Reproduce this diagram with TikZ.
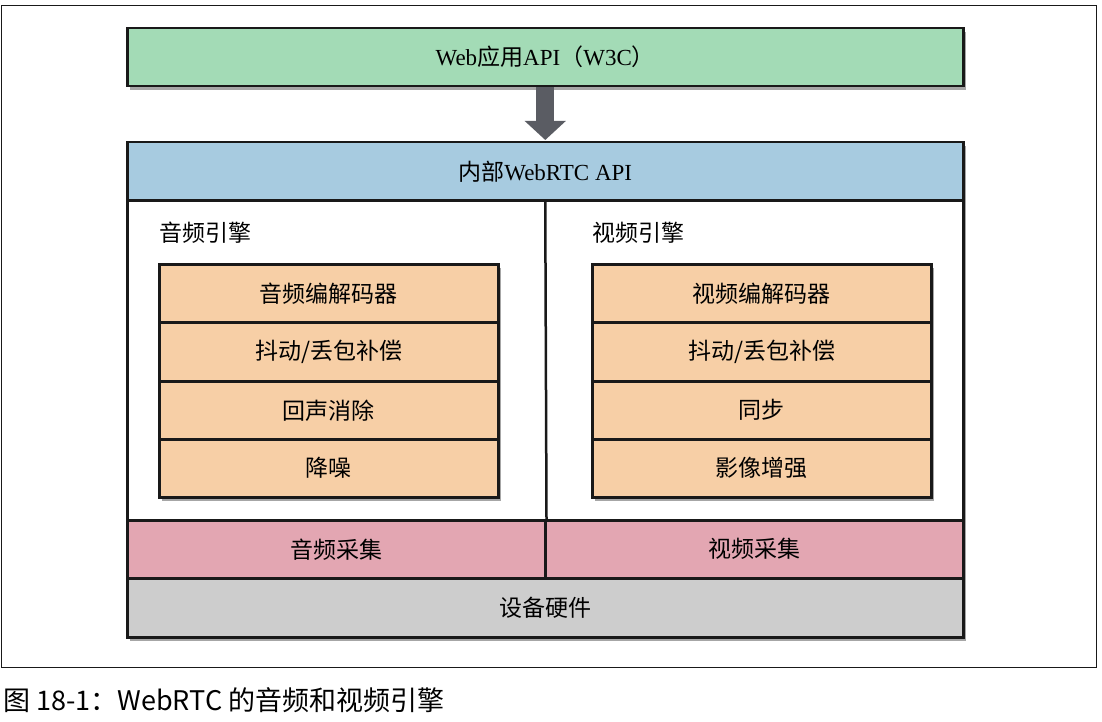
\documentclass[tikz,border=0pt]{standalone}
\usepackage{fontspec}
\setmainfont{Liberation Serif}
\newfontfamily\cjk{Noto Sans CJK SC}
\usetikzlibrary{shadows,arrows.meta}
\definecolor{cgreen}{HTML}{A3DBB6}
\definecolor{cblue}{HTML}{A7CBE0}
\definecolor{corange}{HTML}{F7CFA6}
\definecolor{cpink}{HTML}{E3A6B2}
\definecolor{cgray}{HTML}{CDCDCD}
\definecolor{carrow}{HTML}{5A5C63}
\tikzset{
  cell/.style={draw=black!90, line width=2.5pt, inner sep=0pt, anchor=north west, font=\fontsize{23}{27}\selectfont},
  shad/.style={drop shadow={shadow xshift=3pt, shadow yshift=-4pt, opacity=0.35, fill=black}},
  lbl/.style={inner sep=0pt, anchor=west, font=\fontsize{23}{27}\selectfont},
}
\begin{document}
\begin{tikzpicture}[x=1pt,y=-1pt]
\useasboundingbox (0,0) rectangle (1102,722);
\fill[white] (0,0) rectangle (1102,722);
\node[draw=black!90, line width=1pt, inner sep=0pt, anchor=north west, minimum width=1095pt, minimum height=662pt] (frame) at (1,5) {};
% top green box
\node[cell, shad, fill=cgreen, minimum width=836pt, minimum height=58pt] (w3c) at (126,27) {Web{\cjk 应用}API{\cjk （}W3C{\cjk ）}};
% main box
\node[cell, shad, fill=white, minimum width=836pt, minimum height=495pt] (main) at (126,141) {};
\node[cell, fill=cblue, minimum width=836pt, minimum height=58pt] (api) at (126,141) {{\cjk 内部}WebRTC API};
\node[cell, fill=cpink, minimum width=418pt, minimum height=58pt] (acap) at (126,519) {\cjk 音频采集};
\node[cell, fill=cpink, minimum width=418pt, minimum height=58pt] (vcap) at (544,519) {\cjk 视频采集};
\node[cell, fill=cgray, minimum width=836pt, minimum height=59pt] (hw) at (126,577) {\cjk 设备硬件};
\draw[black!90, line width=2.5pt] (api.south) -- (acap.north east);
% engines
\node[lbl] (aeng) at (159,233) {\cjk 音频引擎};
\node[lbl] (veng) at (592,233) {\cjk 视频引擎};
% audio group
\node[cell, shad, fill=corange, minimum width=339pt, minimum height=233pt] (ag) at (158,263) {};
\node[cell, fill=corange, minimum width=339pt, minimum height=58pt] (a1) at (158,263) {\cjk 音频编解码器};
\node[cell, fill=corange, minimum width=339pt, minimum height=59pt] (a2) at (158,321) {\cjk 抖动/丢包补偿};
\node[cell, fill=corange, minimum width=339pt, minimum height=58pt] (a3) at (158,380) {\cjk 回声消除};
\node[cell, fill=corange, minimum width=339pt, minimum height=58pt] (a4) at (158,438) {\cjk 降噪};
% video group
\node[cell, shad, fill=corange, minimum width=339pt, minimum height=233pt] (vg) at (591,263) {};
\node[cell, fill=corange, minimum width=339pt, minimum height=58pt] (v1) at (591,263) {\cjk 视频编解码器};
\node[cell, fill=corange, minimum width=339pt, minimum height=59pt] (v2) at (591,321) {\cjk 抖动/丢包补偿};
\node[cell, fill=corange, minimum width=339pt, minimum height=58pt] (v3) at (591,380) {\cjk 同步};
\node[cell, fill=corange, minimum width=339pt, minimum height=58pt] (v4) at (591,438) {\cjk 影像增强};
% arrow
\draw[carrow, line width=18pt, -{Triangle[width=40pt,length=19pt]}] (w3c.south) -- ([yshift=1pt]api.north);
% caption
\node[inner sep=0pt, anchor=west, font=\cjk\fontsize{27}{31}\selectfont] (cap) at (3,700) {图 18-1：WebRTC 的音频和视频引擎};
\end{tikzpicture}
\end{document}
